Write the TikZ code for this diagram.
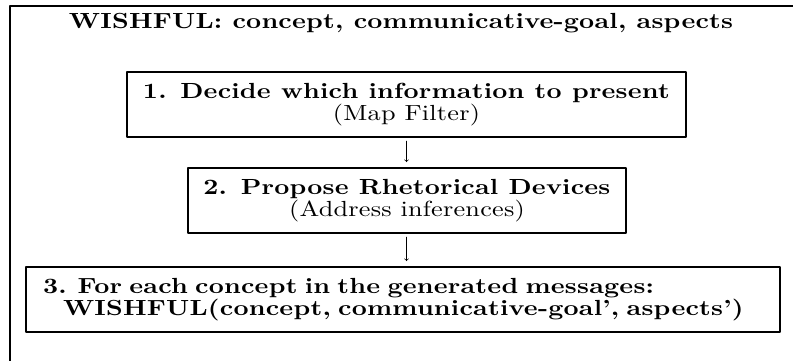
\documentclass[tikz,border=0pt]{standalone}
\usepackage{fontspec}
\setmainfont{lmroman10-regular.otf}[BoldFont=lmroman10-bold.otf, FakeStretch=1.2, LetterSpace=1]
\usepackage{tikz}
\usetikzlibrary{positioning}

\newcommand{\boxfont}{\fontsize{17.5}{18}\selectfont}

\tikzset{
	stage/.style={draw, line width=1.6pt, inner sep=0pt, minimum height=52pt, font=\boxfont},
	flow/.style={->, line width=.5pt, shorten <=2.5pt, shorten >=4pt}
}

\begin{document}
\begin{tikzpicture}[x=.8pt, y=-.8pt, line cap=round, line join=round]
	
	\useasboundingbox (0,0) rectangle (793,360);
	
	% Khung ngoài (chỉ thấy cạnh trên và cạnh trái)
	\draw[line width=1.6pt] (10,362) -- (10,6) -- (795,6);
	
	% Tiêu đề
	\node[anchor=base, font=\boxfont\bfseries] (title) at (401,28)
		{WISHFUL: concept, communicative-goal, aspects};
	
	% Các bước
	\node[stage, minimum width=447pt, align=center] (b1) at (406.5,104.5)
		{\textbf{1. Decide which information to present}\\(Map Filter)};
	\node[stage, minimum width=350pt, align=center] (b2) at (407,200.5)
		{\textbf{2. Propose Rhetorical Devices}\\(Address inferences)};
	\node[stage, minimum width=603pt, align=left, inner xsep=13.6pt, text width=576pt] (b3) at (403,299.5)
		{\textbf{3. For each concept in the generated messages:}\\
		 \hspace*{16pt}\textbf{WISHFUL(concept, communicative-goal', aspects')}};
	
	% Mũi tên
	\draw[flow] (b1.south) -- (b1.south |- b2.north);
	\draw[flow] (b1.south |- b2.south) -- (b1.south |- b3.north);
	
\end{tikzpicture}
\end{document}
